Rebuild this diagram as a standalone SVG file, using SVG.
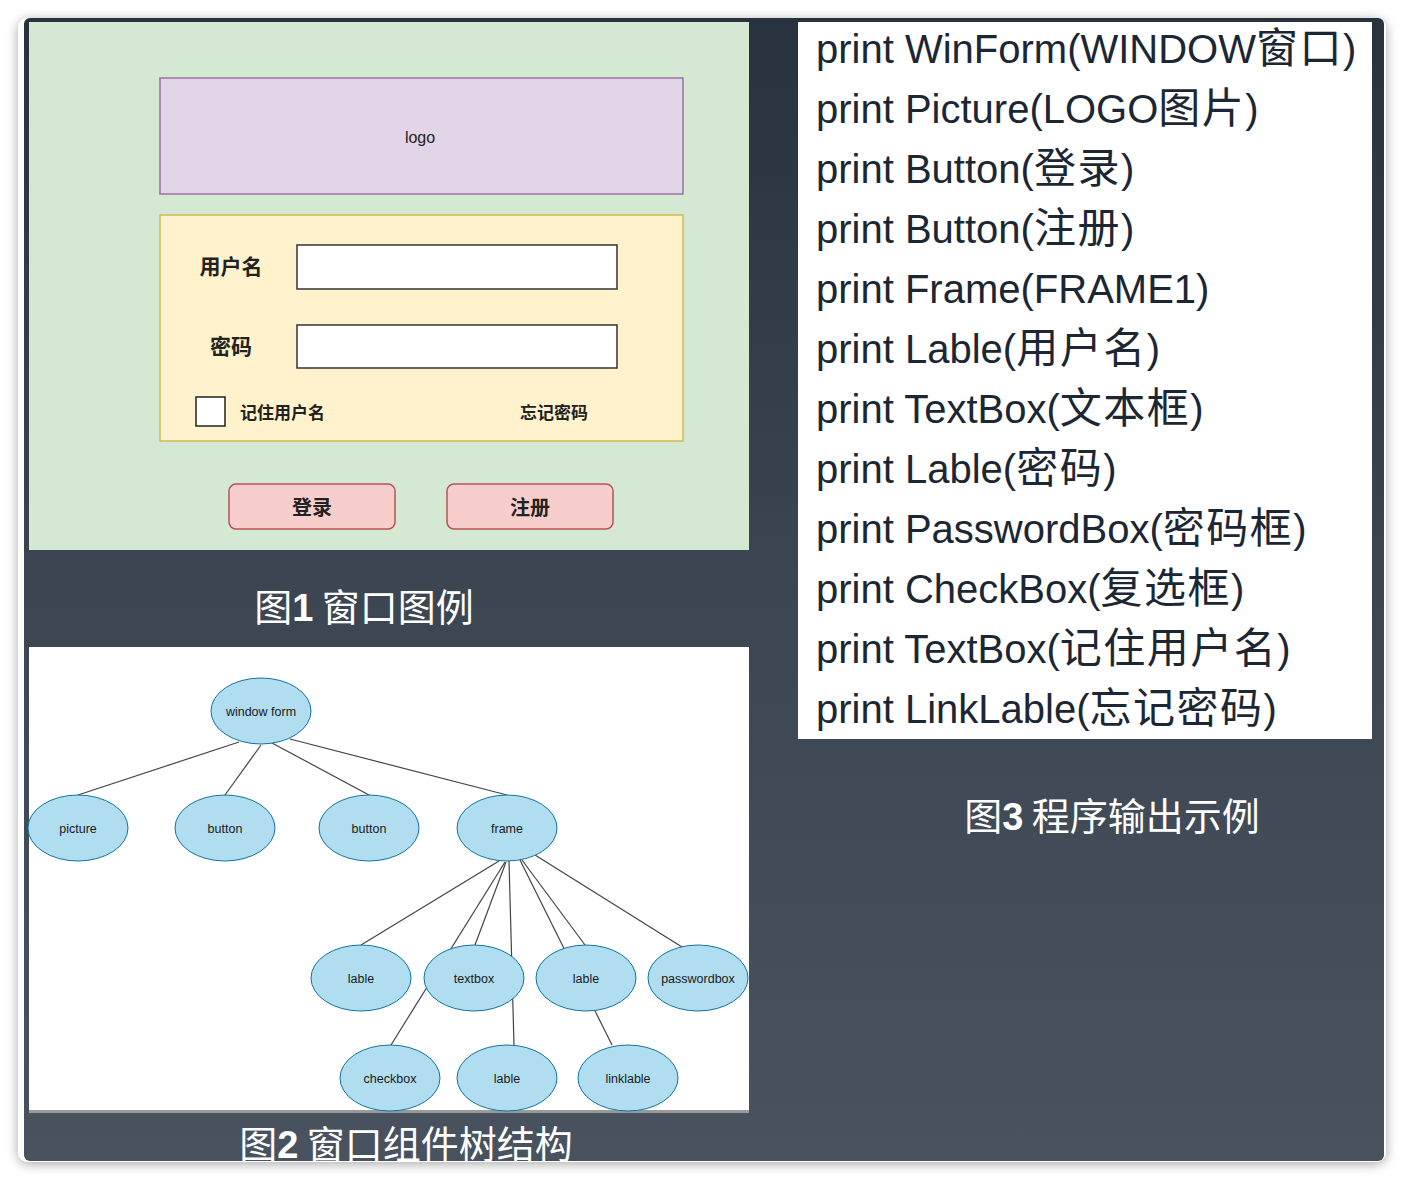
<svg xmlns="http://www.w3.org/2000/svg" width="1404" height="1180" viewBox="0 0 1404 1180">
<defs>
<linearGradient id="bg" x1="0" y1="0" x2="0" y2="1">
<stop offset="0" stop-color="#28323e"/>
<stop offset="0.5" stop-color="#3c4652"/>
<stop offset="1" stop-color="#48535f"/>
</linearGradient>
<filter id="sh" x="-5%" y="-5%" width="110%" height="110%">
<feGaussianBlur in="SourceAlpha" stdDeviation="6"/>
<feOffset dy="2"/>
<feComponentTransfer><feFuncA type="linear" slope="0.35"/></feComponentTransfer>
<feMerge><feMergeNode/><feMergeNode in="SourceGraphic"/></feMerge>
</filter>
<clipPath id="frame"><rect x="24" y="18" width="1360" height="1143" rx="6"/></clipPath>
</defs>
<style>
.lbl{font-family:"Liberation Sans","Noto Sans CJK SC",sans-serif;font-size:12.5px;fill:#1a1a1a;text-anchor:middle;}
.node{fill:#b1ddf0;stroke:#10739e;stroke-width:1;}
.edge{stroke:#444;stroke-width:1.2;fill:none;}
.out{font-family:"Liberation Sans","Noto Sans CJK SC",sans-serif;font-size:40px;fill:#1c2733;}
.cj{font-size:42px;letter-spacing:1.5px;}
.cap{font-family:"Noto Sans CJK SC",sans-serif;font-size:38px;fill:#ffffff;text-anchor:middle;}
.dig{font-family:"Liberation Sans",sans-serif;font-weight:bold;}
.form{font-family:"Noto Sans CJK SC",sans-serif;font-weight:bold;fill:#222;}
</style>
<rect x="0" y="0" width="1404" height="1180" fill="#ffffff"/>
<rect x="18" y="18" width="1368" height="1144" rx="10" fill="#ffffff" filter="url(#sh)"/>
<rect x="24" y="18" width="1360" height="1143" rx="6" fill="url(#bg)"/>
<g clip-path="url(#frame)">
<g id="fig1">
<rect x="29" y="22" width="720" height="528" fill="#d5e8d4"/>
<g id="logo">
<rect x="160" y="78" width="523" height="116" fill="#e1d5e7" stroke="#9673a6" stroke-width="1.5"/>
<text x="420" y="143" font-family="Liberation Sans,sans-serif" font-size="16" text-anchor="middle" fill="#222">logo</text>
</g>
<g id="loginframe">
<rect x="160" y="215" width="523" height="226" fill="#fff2cc" stroke="#d6b656" stroke-width="1.5"/>
<text class="form" x="231" y="274" font-size="21" text-anchor="middle">用户名</text>
<rect x="297" y="245" width="320" height="44" fill="#ffffff" stroke="#333" stroke-width="1.5"/>
<text class="form" x="231" y="354" font-size="21" text-anchor="middle">密码</text>
<rect x="297" y="325" width="320" height="43" fill="#ffffff" stroke="#333" stroke-width="1.5"/>
<rect x="196" y="397" width="29" height="29" fill="#ffffff" stroke="#222" stroke-width="1.5"/>
<text class="form" x="240" y="419" font-size="17">记住用户名</text>
<text class="form" x="520" y="419" font-size="17">忘记密码</text>
</g>
<g id="btnLogin">
<rect x="229" y="484" width="166" height="45" rx="7" fill="#f8cecc" stroke="#b85450" stroke-width="1.5"/>
<text class="form" x="312" y="515" font-size="20" text-anchor="middle">登录</text>
</g>
<g id="btnReg">
<rect x="447" y="484" width="166" height="45" rx="7" fill="#f8cecc" stroke="#b85450" stroke-width="1.5"/>
<text class="form" x="530" y="515" font-size="20" text-anchor="middle">注册</text>
</g>
</g>
<text class="cap" x="364" y="621">图<tspan class="dig">1</tspan> 窗口图例</text>

<g id="fig2">
<rect x="29" y="647" width="720" height="464" fill="#ffffff"/>
<line x1="29" y1="1111.5" x2="749" y2="1111.5" stroke="#9a9a9a" stroke-width="3"/>
<g id="connectors">
<line class="edge" x1="239" y1="742" x2="78" y2="795"/>
<line class="edge" x1="261" y1="745" x2="225" y2="795"/>
<line class="edge" x1="272" y1="743" x2="369" y2="795"/>
<line class="edge" x1="290" y1="739" x2="507" y2="795"/>
<line class="edge" x1="499" y1="861" x2="361" y2="945"/>
<line class="edge" x1="505" y1="862" x2="391" y2="1045"/>
<line class="edge" x1="506" y1="862" x2="475" y2="945"/>
<line class="edge" x1="509" y1="861" x2="514" y2="1045"/>
<line class="edge" x1="520" y1="860" x2="612" y2="1045"/>
<line class="edge" x1="522" y1="860" x2="585" y2="945"/>
<line class="edge" x1="535" y1="855" x2="682" y2="947"/>
</g>
<g id="n-window"><ellipse class="node" cx="261" cy="711" rx="50" ry="33"/><text class="lbl" x="261" y="715.5">window form</text></g>
<g id="n-picture"><ellipse class="node" cx="78" cy="828" rx="50" ry="33"/><text class="lbl" x="78" y="832.5">picture</text></g>
<g id="n-button1"><ellipse class="node" cx="225" cy="828" rx="50" ry="33"/><text class="lbl" x="225" y="832.5">button</text></g>
<g id="n-button2"><ellipse class="node" cx="369" cy="828" rx="50" ry="33"/><text class="lbl" x="369" y="832.5">button</text></g>
<g id="n-frame"><ellipse class="node" cx="507" cy="828" rx="50" ry="33"/><text class="lbl" x="507" y="832.5">frame</text></g>
<g id="n-lable1"><ellipse class="node" cx="361" cy="978" rx="50" ry="33"/><text class="lbl" x="361" y="982.5">lable</text></g>
<g id="n-textbox"><ellipse class="node" cx="474" cy="978" rx="50" ry="33"/><text class="lbl" x="474" y="982.5">textbox</text></g>
<g id="n-lable2"><ellipse class="node" cx="586" cy="978" rx="50" ry="33"/><text class="lbl" x="586" y="982.5">lable</text></g>
<g id="n-passwordbox"><ellipse class="node" cx="698" cy="978" rx="50" ry="33"/><text class="lbl" x="698" y="982.5">passwordbox</text></g>
<g id="n-checkbox"><ellipse class="node" cx="390" cy="1078" rx="50" ry="33"/><text class="lbl" x="390" y="1082.5">checkbox</text></g>
<g id="n-lable3"><ellipse class="node" cx="507" cy="1078" rx="50" ry="33"/><text class="lbl" x="507" y="1082.5">lable</text></g>
<g id="n-linklable"><ellipse class="node" cx="628" cy="1078" rx="50" ry="33"/><text class="lbl" x="628" y="1082.5">linklable</text></g>
</g>
<text class="cap" x="406" y="1158" font-size="39">图<tspan class="dig">2</tspan> 窗口组件树结构</text>

<g id="fig3">
<rect x="798" y="22" width="574" height="717" fill="#ffffff"/>
<text class="out" x="816" y="63">print WinForm(WINDOW<tspan class="cj">窗口</tspan>)</text>
<text class="out" x="816" y="123">print Picture(LOGO<tspan class="cj">图片</tspan>)</text>
<text class="out" x="816" y="183">print Button(<tspan class="cj">登录</tspan>)</text>
<text class="out" x="816" y="243">print Button(<tspan class="cj">注册</tspan>)</text>
<text class="out" x="816" y="303">print Frame(FRAME1)</text>
<text class="out" x="816" y="363">print Lable(<tspan class="cj">用户名</tspan>)</text>
<text class="out" x="816" y="423">print TextBox(<tspan class="cj">文本框</tspan>)</text>
<text class="out" x="816" y="483">print Lable(<tspan class="cj">密码</tspan>)</text>
<text class="out" x="816" y="543">print PasswordBox(<tspan class="cj">密码框</tspan>)</text>
<text class="out" x="816" y="603">print CheckBox(<tspan class="cj">复选框</tspan>)</text>
<text class="out" x="816" y="663">print TextBox(<tspan class="cj">记住用户名</tspan>)</text>
<text class="out" x="816" y="723">print LinkLable(<tspan class="cj">忘记密码</tspan>)</text>
</g>
<text class="cap" x="1112" y="830">图<tspan class="dig">3</tspan> 程序输出示例</text>
</g>
</svg>
